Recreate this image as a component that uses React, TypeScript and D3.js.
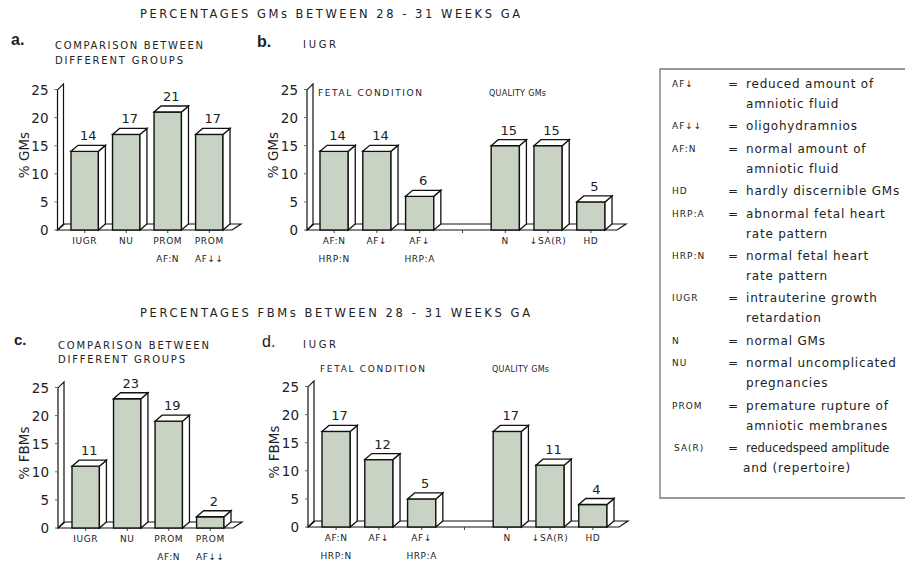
import React from "react";
import * as d3 from "d3";

const W = 905;
const H = 566;

// Comparison between different groups
const groupNames = ["IUGR", "NU", "PROM", "PROM"];
const groupSubNames = ["", "", "AF:N", "AF↓↓"];
const gmGroupValues = [14, 17, 21, 17];
const fbmGroupValues = [11, 23, 19, 2];

// IUGR subgroups: fetal condition (slots 0-2), quality GMs (slots 4-6)
const iugrNames = ["AF:N", "AF↓", "AF↓", "", "N", "↓SA(R)", "HD"];
const iugrSubNames = ["HRP:N", "", "HRP:A", "", "", "", ""];
const gmIugrValues: (number | null)[] = [14, 14, 6, null, 15, 15, 5];
const fbmIugrValues: (number | null)[] = [17, 12, 5, null, 17, 11, 4];

const yTicks = [0, 5, 10, 15, 20, 25];

const legendKeys = ["AF↓", "AF↓↓", "AF:N", "HD", "HRP:A", "HRP:N", "IUGR", "N", "NU", "PROM", "SA(R)"];
const legendLines = [
  ["reduced amount of", "amniotic fluid"],
  ["oligohydramnios"],
  ["normal amount of", "amniotic fluid"],
  ["hardly discernible GMs"],
  ["abnormal fetal heart", "rate pattern"],
  ["normal fetal heart", "rate pattern"],
  ["intrauterine growth", "retardation"],
  ["normal GMs"],
  ["normal uncomplicated", "pregnancies"],
  ["premature rupture of", "amniotic membranes"],
  ["reducedspeed amplitude", "and (repertoire)"],
];

const FONT = "'DejaVu Sans', 'Liberation Sans', sans-serif";
const INK = "#222";
const BAR_FILL = "#c8d3c3";
const DX = 7;
const DY = 6;

type PanelProps = {
  poleX: number;
  zeroY: number;
  x0: number;
  x1: number;
  values: (number | null)[];
  names: string[];
  subNames: string[];
  yLabel: string;
  floorEnd: number;
};

function Panel({ poleX, zeroY, x0, x1, values, names, subNames, yLabel, floorEnd }: PanelProps) {
  const y = d3.scaleLinear().domain([0, 25]).range([zeroY, zeroY - 140.5]);
  const x = d3
    .scaleBand<number>()
    .domain(values.map((_, i) => i))
    .range([x0, x1])
    .paddingInner(0.34)
    .paddingOuter(0);
  const bw = x.bandwidth();
  const poleTop = y(26);
  const pts = (a: [number, number][]) => a.map((p) => p.join(",")).join(" ");

  return (
    <g>
      {/* floor */}
      <polygon
        points={pts([
          [poleX, zeroY],
          [floorEnd, zeroY],
          [floorEnd + DX + 2, zeroY - DY],
          [poleX + DX, zeroY - DY],
        ])}
        fill="#fff"
        stroke="#111"
        strokeWidth={1.2}
      />
      {/* vertical wall */}
      <polygon
        points={pts([
          [poleX, zeroY],
          [poleX, poleTop + DY],
          [poleX + 6, poleTop],
          [poleX + 6, zeroY - DY],
        ])}
        fill="#fff"
        stroke="#111"
        strokeWidth={1.2}
      />
      {yTicks.map((t) => (
        <g key={t}>
          <line x1={poleX - 3} x2={poleX} y1={y(t)} y2={y(t)} stroke="#666" strokeWidth={1} />
          <text
            x={poleX - 9}
            y={y(t) + 5}
            textAnchor="end"
            fontFamily={FONT}
            fontSize={13.5}
            fill={INK}
          >
            {t}
          </text>
        </g>
      ))}
      <text
        transform={`translate(${poleX - 29},${zeroY - 75}) rotate(-90)`}
        textAnchor="middle"
        fontFamily={FONT}
        fontSize={13.5}
        fill={INK}
      >
        {yLabel}
      </text>
      {values.map((v, i) => {
        const bx = x(i) as number;
        const cx = bx + bw / 2;
        return (
          <g key={i}>
            <line x1={cx} x2={cx} y1={zeroY} y2={zeroY + 3} stroke="#444" strokeWidth={1} />
            {v !== null && (
              <g>
                <rect x={bx} y={y(v)} width={bw} height={zeroY - y(v)} fill={BAR_FILL} stroke="#111" strokeWidth={1.4} />
                <polygon
                  points={pts([
                    [bx + bw, y(v)],
                    [bx + bw + DX, y(v) - DY],
                    [bx + bw + DX, zeroY - DY],
                    [bx + bw, zeroY],
                  ])}
                  fill="#fff"
                  stroke="#111"
                  strokeWidth={1.3}
                />
                <polygon
                  points={pts([
                    [bx, y(v)],
                    [bx + DX, y(v) - DY],
                    [bx + bw + DX, y(v) - DY],
                    [bx + bw, y(v)],
                  ])}
                  fill="#fff"
                  stroke="#111"
                  strokeWidth={1.3}
                />
                <text
                  x={cx + DX / 2}
                  y={y(v) - DY - 5}
                  textAnchor="middle"
                  fontFamily={FONT}
                  fontSize={13}
                  fill={INK}
                >
                  {v}
                </text>
              </g>
            )}
            <text
              x={cx}
              y={zeroY + 14}
              textAnchor="middle"
              fontFamily={FONT}
              fontSize={9}
              letterSpacing={0.6}
              fill={INK}
            >
              {names[i]}
            </text>
            <text
              x={cx}
              y={zeroY + 32}
              textAnchor="middle"
              fontFamily={FONT}
              fontSize={9}
              letterSpacing={0.6}
              fill={INK}
            >
              {subNames[i]}
            </text>
          </g>
        );
      })}
    </g>
  );
}

function Heading({ x, y, text, len, size = 10 }: { x: number; y: number; text: string; len: number; size?: number }) {
  return (
    <text x={x} y={y} fontFamily={FONT} fontSize={size} fill={INK} textLength={len} lengthAdjust="spacing">
      {text}
    </text>
  );
}

function Legend() {
  let lineCount = 0;
  const rows: React.ReactNode[] = [];
  legendKeys.forEach((key, i) => {
    const base = 88 + lineCount * 20 + i * 2.4;
    rows.push(
      <g key={key}>
        <text x={i === 10 ? 674 : 672} y={base - 1} fontFamily={FONT} fontSize={9} letterSpacing={1} fill={INK}>
          {key}
        </text>
        <text x={728} y={base} fontFamily={FONT} fontSize={12} fill={INK}>
          =
        </text>
        {legendLines[i].map((ln, j) => {
          const tight = i === 10 && j === 0;
          return (
            <text
              key={j}
              x={i === 10 && j === 1 ? 743 : 746}
              y={base + j * 20}
              fontFamily={FONT}
              fontSize={tight ? 11.5 : 12}
              letterSpacing={tight ? 0 : 0.8}
              fill={INK}
            >
              {ln}
            </text>
          );
        })}
      </g>
    );
    lineCount += legendLines[i].length;
  });
  return (
    <g>
      {/* box runs past the right edge, so only three sides are drawn */}
      <path d="M 960 69 H 660 V 498 H 960" fill="none" stroke="#999" strokeWidth={1.8} />
      {rows}
    </g>
  );
}

export default function App() {
  return (
    <svg
      width={W}
      height={H}
      viewBox={`0 0 ${W} ${H}`}
      style={{ position: "absolute", left: 0, top: 0, background: "#fff" }}
    >
      <rect width={W} height={H} fill="#fff" />

      {/* GMs */}
      <Heading x={140} y={18} text="PERCENTAGES GMs BETWEEN 28 - 31 WEEKS GA" len={380} size={11.5} />
      <text x={11} y={45} fontFamily="'Liberation Sans', sans-serif" fontWeight="bold" fontSize={16} fill={INK}>a.</text>
      <Heading x={55} y={49} text="COMPARISON BETWEEN" len={148} />
      <Heading x={55} y={64} text="DIFFERENT GROUPS" len={128} />
      <text x={257} y={47} fontFamily="'Liberation Sans', sans-serif" fontWeight="bold" fontSize={16} fill={INK}>b.</text>
      <Heading x={303} y={48} text="IUGR" len={33} />
      <Heading x={318} y={96} text="FETAL CONDITION" len={104} size={9} />
      <Heading x={489} y={96} text="QUALITY GMs" len={57} size={8} />

      <Panel poleX={57.5} zeroY={230} x0={71} x1={223} values={gmGroupValues} names={groupNames} subNames={groupSubNames} yLabel="% GMs" floorEnd={232} />
      <Panel poleX={307} zeroY={230} x0={320} x1={605} values={gmIugrValues} names={iugrNames} subNames={iugrSubNames} yLabel="% GMs" floorEnd={617} />

      {/* FBMs */}
      <Heading x={140} y={317} text="PERCENTAGES FBMs BETWEEN 28 - 31 WEEKS GA" len={390} size={11.5} />
      <text x={14} y={345} fontFamily="'Liberation Sans', sans-serif" fontWeight="bold" fontSize={15} fill={INK}>c.</text>
      <Heading x={58} y={349} text="COMPARISON BETWEEN" len={151} />
      <Heading x={58} y={363} text="DIFFERENT GROUPS" len={127} />
      <text x={262} y={347} fontFamily="'Liberation Sans', sans-serif" fontSize={16} fill={INK}>d.</text>
      <Heading x={303} y={348} text="IUGR" len={33} />
      <Heading x={320} y={372} text="FETAL CONDITION" len={105} size={9} />
      <Heading x={492} y={372} text="QUALITY GMs" len={57} size={8} />

      <Panel poleX={58} zeroY={528} x0={72} x1={224} values={fbmGroupValues} names={groupNames} subNames={groupSubNames} yLabel="% FBMs" floorEnd={233} />
      <Panel poleX={308} zeroY={527} x0={322} x1={607} values={fbmIugrValues} names={iugrNames} subNames={iugrSubNames} yLabel="% FBMs" floorEnd={619} />

      <Legend />
    </svg>
  );
}
